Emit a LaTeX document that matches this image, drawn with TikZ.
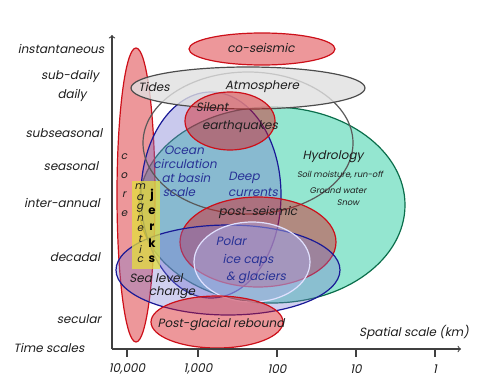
\documentclass[tikz,border=0pt]{standalone}
\usepackage{fontspec}
\setmainfont{Poppins}[AutoFakeSlant=0.2]
\definecolor{seisred}{RGB}{215,25,30}
\definecolor{edgered}{RGB}{205,15,25}
\definecolor{hydrofill}{RGB}{60,210,170}
\definecolor{hydroedge}{RGB}{10,110,75}
\definecolor{navyedge}{RGB}{25,25,150}
\definecolor{lavfill}{RGB}{120,120,210}
\definecolor{oceanblue}{RGB}{40,50,150}
\definecolor{polaredge}{RGB}{225,225,255}
\definecolor{jerkyellow}{RGB}{228,224,60}
\definecolor{inkgray}{RGB}{30,30,30}

\begin{document}
\begin{tikzpicture}[x=0.75pt,y=-0.75pt,line width=0.9pt,
  lbl/.style={font=\fontsize{9}{10}\selectfont\itshape,text=inkgray,inner sep=0pt},
  smalllbl/.style={font=\fontsize{6.2}{7}\selectfont\itshape,text=inkgray,inner sep=0pt},
  bluelbl/.style={lbl,text=oceanblue},
  letter/.style={font=\fontsize{7.8}{8}\selectfont\itshape,text=inkgray,inner sep=0pt},
  bigletter/.style={font=\fontsize{8.8}{9}\selectfont\bfseries\itshape,text=black,inner sep=0pt},
  redblob/.style={fill=seisred,fill opacity=0.45,draw=edgered,draw opacity=1},
  axis/.style={draw=black!75,line width=0.8pt}]
\useasboundingbox (0,0) rectangle (488,389);

% hydrology and the big blobs
\path[fill=hydrofill,fill opacity=0.55,draw=hydroedge] (272,205) ellipse [x radius=133*0.75pt,y radius=98*0.75pt];
\path[redblob] (136,195) ellipse [x radius=19*0.75pt,y radius=147*0.75pt];
\path[fill=lavfill,fill opacity=0.4,draw=navyedge] (211,195) ellipse [x radius=70*0.75pt,y radius=103*0.75pt];
\draw[black!65] (248,143) ellipse [x radius=105*0.75pt,y radius=71*0.75pt];
\path[fill=black!12,fill opacity=0.8,draw=black!70] (248,88) ellipse [x radius=117*0.75pt,y radius=21*0.75pt];
\path[redblob] (230,121) ellipse [x radius=45*0.75pt,y radius=29*0.75pt];
\path[redblob] (258,242) ellipse [x radius=78*0.75pt,y radius=45*0.75pt];
\path[fill=lavfill,fill opacity=0.35,draw=navyedge] (228,270) ellipse [x radius=112*0.75pt,y radius=45*0.75pt];
\path[fill=lavfill!60,fill opacity=0.45,draw=polaredge] (252,262) ellipse [x radius=58*0.75pt,y radius=40*0.75pt];
\path[redblob] (217,322) ellipse [x radius=66*0.75pt,y radius=26*0.75pt];
\path[fill=jerkyellow,fill opacity=0.75] (132,181) rectangle (160,269);
\path[redblob] (262,49) ellipse [x radius=73*0.75pt,y radius=16*0.75pt];

% axes
\coordinate (origin) at (112,349);
\coordinate (ytip) at (112,35);
\coordinate (xtip) at (461,349);
\draw[axis,->] (origin) -- (ytip);
\draw[axis,->] (origin) -- (xtip);
\foreach \x/\lab [count=\i] in {127/{10,000},198/{1,000},277/100,356/10,435/1}{
  \draw[axis] (\x,349) -- (\x,357);
  \node[lbl] (tick\i) at (\x,369) {\lab};
}
\node[lbl] (xname) at (414,332) {Spatial scale (km)};

% time scales
\node[lbl] (inst) at (61,49) {instantaneous};
\node[lbl] (subdaily) at (70,76) {sub-daily};
\node[lbl] (daily) at (72,95) {daily};
\node[lbl] (subseas) at (64,133) {subseasonal};
\node[lbl] (seas) at (71,166) {seasonal};
\node[lbl] (interann) at (62,203) {inter-annual};
\node[lbl] (decadal) at (75,257) {decadal};
\node[lbl] (secular) at (79,319) {secular};
\node[lbl] (yname) at (49,348) {Time scales};

% phenomena
\node[lbl] (coseis) at (261,48) {co-seismic};
\node[lbl] (tides) at (154,87) {Tides};
\node[lbl] (atmos) at (262,87) {Atmosphere};
\node[lbl] (silent) at (212,107) {Silent};
\node[lbl] (quakes) at (240,127) {earthquakes};
\node[bluelbl] (ocean1) at (184,150) {Ocean};
\node[bluelbl] (ocean2) at (185,164) {circulation};
\node[bluelbl] (ocean3) at (186,178) {at basin};
\node[bluelbl] (ocean4) at (179,192) {scale};
\node[bluelbl] (deep1) at (244,178) {Deep};
\node[bluelbl] (deep2) at (253,192) {currents};
\node[lbl] (hydro) at (333,157) {Hydrology};
\node[smalllbl] (soil) at (340,175) {Soil moisture, run-off};
\node[smalllbl] (ground) at (338,190) {Ground water};
\node[smalllbl] (snow) at (348,203) {Snow};
\node[lbl] (postseis) at (258,212) {post-seismic};
\node[bluelbl] (polar1) at (231,241) {Polar};
\node[bluelbl] (polar2) at (248,260) {ice caps};
\node[bluelbl] (polar3) at (256,278) {\& glaciers};
\node[lbl] (sea1) at (156,278) {Sea level};
\node[lbl] (sea2) at (172,293) {change};
\node[lbl] (rebound) at (221,325) {Post-glacial rebound};

% vertical words
\foreach \ch [count=\i from 0] in {c,o,r,e}
  \node[letter] (core\i) at (124,157+19*\i) {\ch};
\foreach \ch [count=\i from 0] in {m,a,g,n,e,t,i,c}
  \node[letter] (mag\i) at (140,187+10.4*\i) {\ch};
\foreach \ch [count=\i from 0] in {j,e,r,k,s}
  \node[bigletter] (jerk\i) at (152,195+16*\i) {\ch};
\end{tikzpicture}
\end{document}
